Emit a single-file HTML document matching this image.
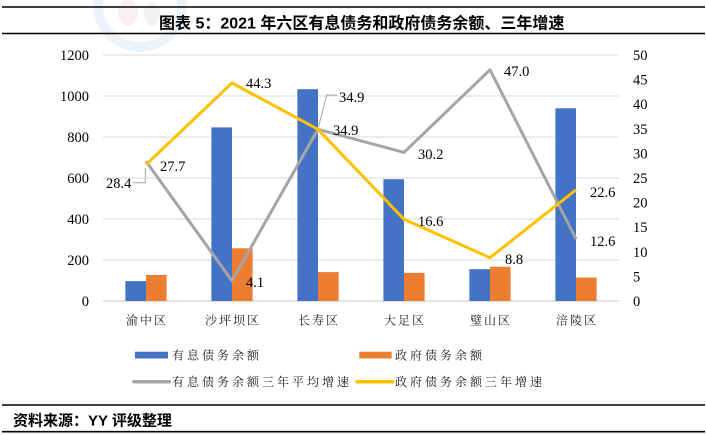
<!DOCTYPE html>
<html><head><meta charset="utf-8">
<style>
html,body{margin:0;padding:0;background:#fff;}
svg{display:block;}
</style></head>
<body>
<svg width="706" height="435" viewBox="0 0 706 435" xmlns="http://www.w3.org/2000/svg">
<!-- watermark -->
<g opacity="0.18">
<circle cx="140" cy="5" r="42" fill="none" stroke="#9cc3ea" stroke-width="10"/>
<ellipse cx="128" cy="12" rx="10" ry="14" fill="#e8b0b8"/>
<ellipse cx="152" cy="14" rx="8" ry="12" fill="#b8b8c8"/>
</g>
<!-- title bars -->
<line x1="2" y1="7" x2="705" y2="7" stroke="#000" stroke-width="1.6"/>
<line x1="2" y1="33.5" x2="705" y2="33.5" stroke="#000" stroke-width="1.6"/>
<text x="159" y="28.5" font-family="Liberation Sans, Noto Sans CJK SC, sans-serif" font-weight="bold" font-size="16" fill="#000">图表 5：2021 年六区有息债务和政府债务余额、三年增速</text>

<!-- gridlines -->
<g stroke="#d9d9d9" stroke-width="1">
<line x1="103" y1="55" x2="619" y2="55"/>
<line x1="103" y1="96" x2="619" y2="96"/>
<line x1="103" y1="137" x2="619" y2="137"/>
<line x1="103" y1="178" x2="619" y2="178"/>
<line x1="103" y1="219" x2="619" y2="219"/>
<line x1="103" y1="260" x2="619" y2="260"/>
</g>
<line x1="103" y1="301" x2="619" y2="301" stroke="#d0d0d0" stroke-width="1.2"/>

<!-- left axis labels -->
<g font-family="Liberation Serif, serif" font-size="14.5" fill="#000" text-anchor="end">
<text x="89" y="60">1200</text>
<text x="89" y="101">1000</text>
<text x="89" y="142">800</text>
<text x="89" y="183">600</text>
<text x="89" y="224">400</text>
<text x="89" y="265">200</text>
<text x="89" y="306">0</text>
</g>
<!-- right axis labels -->
<g font-family="Liberation Serif, serif" font-size="14.5" fill="#000">
<text x="633" y="60">50</text>
<text x="633" y="84.6">45</text>
<text x="633" y="109.2">40</text>
<text x="633" y="133.8">35</text>
<text x="633" y="158.4">30</text>
<text x="633" y="183">25</text>
<text x="633" y="207.6">20</text>
<text x="633" y="232.2">15</text>
<text x="633" y="256.8">10</text>
<text x="633" y="281.4">5</text>
<text x="633" y="306">0</text>
</g>

<!-- bars -->
<g fill="#4472C4">
<rect x="125.4" y="281.1" width="20.6" height="19.9"/>
<rect x="211.4" y="127.4" width="20.6" height="173.6"/>
<rect x="297.4" y="89.2" width="20.6" height="211.8"/>
<rect x="383.4" y="179.2" width="20.6" height="121.8"/>
<rect x="469.4" y="269.2" width="20.6" height="31.8"/>
<rect x="555.4" y="108.3" width="20.6" height="192.7"/>
</g>
<g fill="#ED7D31">
<rect x="146" y="275" width="20.6" height="26"/>
<rect x="232" y="248.3" width="20.6" height="52.7"/>
<rect x="318" y="272.1" width="20.6" height="28.9"/>
<rect x="404" y="272.9" width="20.6" height="28.1"/>
<rect x="490" y="266.8" width="20.6" height="34.2"/>
<rect x="576" y="277.6" width="20.6" height="23.4"/>
</g>

<!-- lines -->
<polyline points="146,161.3 232,280.8 318,129.3 404,152.4 490,69.8 576,239" fill="none" stroke="#A5A5A5" stroke-width="3" stroke-linejoin="round"/>
<polyline points="146,164.7 232,83 318,129.3 404,219.3 490,257.7 576,189.8" fill="none" stroke="#FFC000" stroke-width="3" stroke-linejoin="round"/>

<!-- leader lines -->
<polyline points="133,182.7 145.3,182.7 145.3,168" fill="none" stroke="#a6a6a6" stroke-width="1"/>
<polyline points="337,95 326.7,95 318.5,127" fill="none" stroke="#a6a6a6" stroke-width="1"/>

<!-- data labels -->
<g font-family="Liberation Serif, serif" font-size="14.5" fill="#000">
<text x="106" y="188">28.4</text>
<text x="160" y="171">27.7</text>
<text x="246" y="88">44.3</text>
<text x="246" y="287">4.1</text>
<text x="339" y="102">34.9</text>
<text x="333" y="135">34.9</text>
<text x="418" y="159">30.2</text>
<text x="418" y="226">16.6</text>
<text x="504" y="76">47.0</text>
<text x="505" y="264">8.8</text>
<text x="590" y="197">22.6</text>
<text x="590" y="246">12.6</text>
</g>

<!-- category labels -->
<g font-family="Liberation Serif, Noto Serif CJK SC, serif" font-size="12" fill="#222" letter-spacing="2" text-anchor="middle">
<text x="147" y="324.5">渝中区</text>
<text x="233" y="324.5">沙坪坝区</text>
<text x="319" y="324.5">长寿区</text>
<text x="405" y="324.5">大足区</text>
<text x="491" y="324.5">璧山区</text>
<text x="577" y="324.5">涪陵区</text>
</g>

<!-- legend -->
<g font-family="Liberation Serif, Noto Serif CJK SC, serif" font-size="12" fill="#222" letter-spacing="3">
<rect x="135" y="351.7" width="33" height="6.8" fill="#4472C4"/>
<text x="172" y="359.5">有息债务余额</text>
<rect x="359.3" y="351.7" width="32.4" height="6.8" fill="#ED7D31"/>
<text x="395" y="359.5">政府债务余额</text>
<line x1="134" y1="381.7" x2="169.3" y2="381.7" stroke="#A5A5A5" stroke-width="3.5" stroke-linecap="round"/>
<text x="172" y="386.2">有息债务余额三年平均增速</text>
<line x1="357" y1="381.7" x2="392.7" y2="381.7" stroke="#FFC000" stroke-width="3.5" stroke-linecap="round"/>
<text x="395" y="386.2">政府债务余额三年增速</text>
</g>

<!-- footer -->
<line x1="2" y1="405" x2="705" y2="405" stroke="#000" stroke-width="1.6"/>
<line x1="2" y1="431.7" x2="705" y2="431.7" stroke="#000" stroke-width="1.6"/>
<text x="13" y="425.5" font-family="Liberation Sans, Noto Sans CJK SC, sans-serif" font-weight="bold" font-size="15" fill="#000">资料来源：YY 评级整理</text>
</svg>
</body></html>
